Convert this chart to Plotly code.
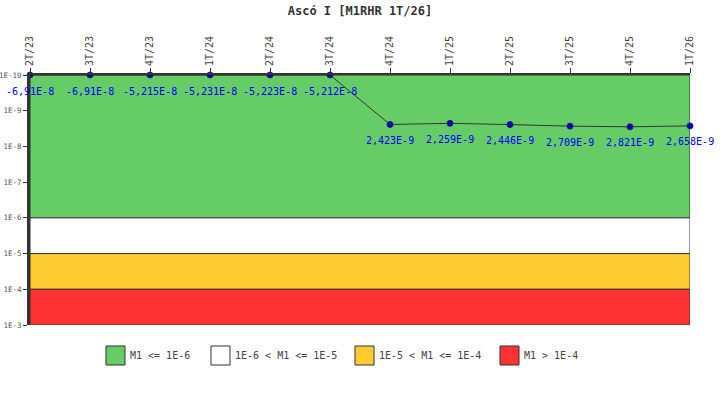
import numpy as np
import plotly.graph_objects as go

categories = ['2T/23', '3T/23', '4T/23', '1T/24', '2T/24', '3T/24',
              '4T/24', '1T/25', '2T/25', '3T/25', '4T/25', '1T/26']
values = [-6.91e-8, -6.91e-8, -5.215e-8, -5.231e-8, -5.223e-8, -5.212e-8,
          2.423e-9, 2.259e-9, 2.446e-9, 2.709e-9, 2.821e-9, 2.658e-9]

y_ticks = [1e-10, 1e-9, 1e-8, 1e-7, 1e-6, 1e-5, 1e-4, 1e-3]
y_tick_text = ['1E-10', '1E-9', '1E-8', '1E-7', '1E-6', '1E-5', '1E-4', '1E-3']

band_edges = [1e-10, 1e-6, 1e-5, 1e-4, 1e-3]
band_colors = ['#66cc66', '#ffffff', '#ffcc33', '#ff3333']
band_names = ['M1 <= 1E-6', '1E-6 < M1 <= 1E-5', '1E-5 < M1 <= 1E-4', 'M1 > 1E-4']

title = 'Ascó I [M1RHR 1T/26]'

Y_MIN = 1e-10
MONO = 'DejaVu Sans Mono'


def fmt(v):
    m, e = f"{v:e}".split('e')
    m = m.rstrip('0').rstrip('.').replace('.', ',')
    return f"{m}E{int(e)}"


plot_y = [max(v, Y_MIN) for v in values]

fig = go.Figure()

# bands
n = len(categories)
for i in range(4):
    lo, hi = band_edges[i], band_edges[i + 1]
    fig.add_trace(go.Scatter(
        x=[categories[0], categories[-1], categories[-1], categories[0], categories[0]],
        y=[lo, lo, hi, hi, lo],
        mode='lines', fill='toself', fillcolor=band_colors[i],
        line=dict(color='#333333', width=1),
        hoverinfo='skip', showlegend=False))

# series
fig.add_trace(go.Scatter(
    x=categories, y=plot_y, mode='lines+markers',
    line=dict(color='#333333', width=1),
    marker=dict(size=6, color='#0000cc', line=dict(color='#222266', width=1)),
    showlegend=False, cliponaxis=False))

annotations = []
for c, v, py in zip(categories, values, plot_y):
    annotations.append(dict(
        x=c, y=np.log10(py), xref='x', yref='y', text=fmt(v),
        showarrow=False, yshift=-16,
        font=dict(family=MONO, size=10, color='#0000ff')))

# legend (manual)
W, H = 720, 400
L, R, T, B = 30, 30, 75, 75
pw, ph = W - L - R, H - T - B


def px(x):
    return (x - L) / pw


def py_(y):
    return (H - B - y) / ph


shapes = []
legend_x = [106, 211, 355, 500]
for lx, col, name in zip(legend_x, band_colors, band_names):
    shapes.append(dict(type='rect', xref='paper', yref='paper',
                       x0=px(lx), x1=px(lx + 19), y0=py_(365), y1=py_(346),
                       fillcolor=col, line=dict(color='#333333', width=1)))
    annotations.append(dict(x=px(lx + 22), y=py_(355.5), xref='paper', yref='paper',
                            text=name, showarrow=False, xanchor='left', yanchor='middle',
                            font=dict(family=MONO, size=10, color='#444444')))

fig.update_layout(
    width=W, height=H,
    margin=dict(l=L, r=R, t=T, b=B, autoexpand=False),
    paper_bgcolor='white', plot_bgcolor='white',
    title=dict(text=title, x=0.5, xanchor='center', y=1 - 11 / H, yanchor='middle',
               yref='container',
               font=dict(family=MONO, size=12, color='#333333', weight='bold')),
    xaxis=dict(type='category', categoryorder='array', categoryarray=categories,
               side='top', range=[0, n - 1], automargin=False,
               showgrid=False, zeroline=False,
               showline=True, linecolor='#333333', linewidth=2,
               ticks='outside', ticklen=5, tickcolor='#333333',
               tickangle=-90,
               tickfont=dict(family=MONO, size=10, color='#444444')),
    yaxis=dict(type='log', range=[-3, -10], automargin=False,
               showgrid=False, zeroline=False,
               showline=True, linecolor='#333333', linewidth=3,
               ticks='outside', ticklen=4, tickcolor='#333333', tickwidth=1,
               ticklabelstandoff=0,
               tickvals=y_ticks, ticktext=y_tick_text,
               tickfont=dict(family=MONO, size=7.5, color='#555555')),
    shapes=shapes, annotations=annotations,
    showlegend=False,
)

fig.write_html('out.html')
